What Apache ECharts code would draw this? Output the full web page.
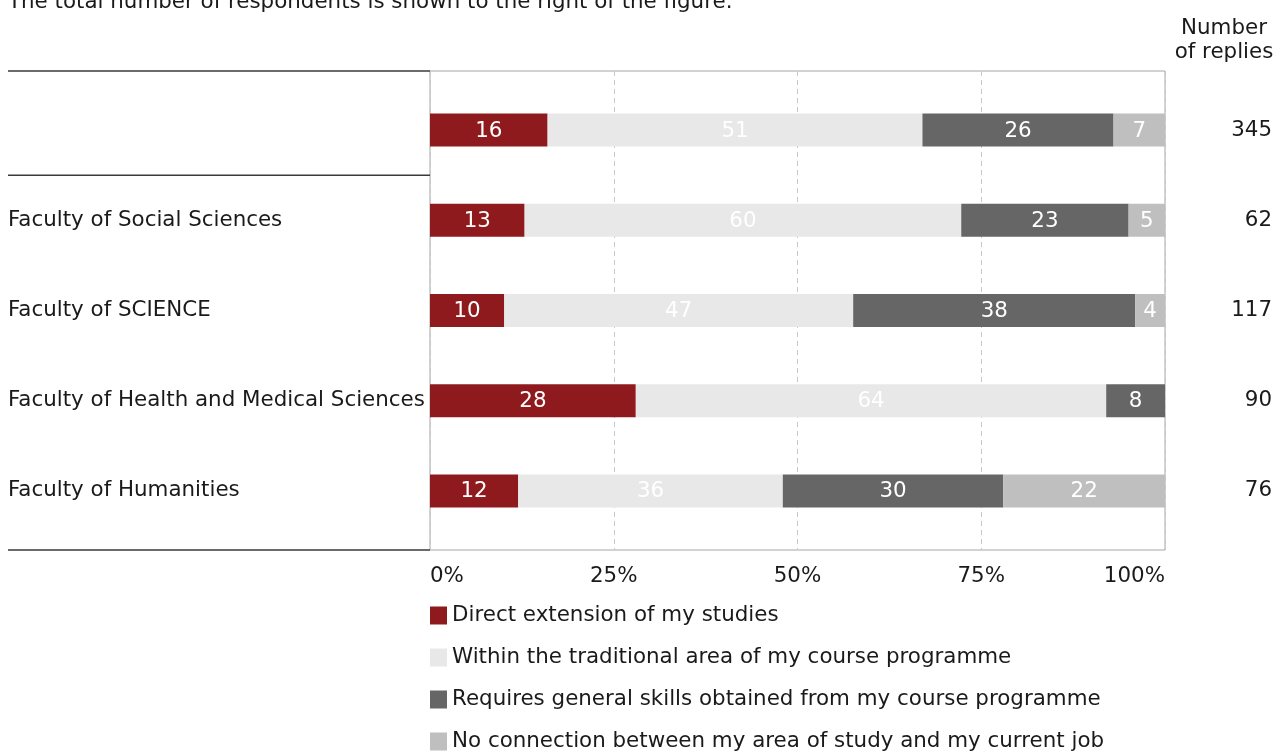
<!DOCTYPE html>
<html>
<head>
<meta charset="utf-8">
<script src="https://cdn.jsdelivr.net/npm/echarts@6/dist/echarts.min.js"></script>
<style>
html,body{margin:0;padding:0;background:#fff;}
#c{width:1276px;height:751px;}
</style>
</head>
<body>
<div id="c"></div>
<script>
const categories = ['', 'Faculty of Social Sciences', 'Faculty of SCIENCE', 'Faculty of Health and Medical Sciences', 'Faculty of Humanities'];
const replies = [345, 62, 117, 90, 76];
const seriesNames = [
  'Direct extension of my studies',
  'Within the traditional area of my course programme',
  'Requires general skills obtained from my course programme',
  'No connection between my area of study and my current job'
];
const directExt = [16, 13, 10, 28, 12];
const withinArea = [51, 60, 47, 64, 36];
const generalSkills = [26, 23, 38, 8, 30];
const noConnection = [7, 5, 4, 0, 22];
const xTicks = ['0%', '25%', '50%', '75%', '100%'];

const FONT = "'DejaVu Sans', Verdana, sans-serif";
const FS = 21.4;
const colors = ['#8f1a1e', '#e8e8e8', '#666666', '#bfbfbf'];
const allVals = [directExt, withinArea, generalSkills, noConnection];
const rowSums = categories.map((_, i) => allVals.reduce((s, a) => s + a[i], 0));

const L = 430, R = 1165, T0 = 71, B0 = 550, T1 = 85, B1 = 536, W = 1276, H = 751;

const chart = echarts.init(document.getElementById('c'), null, {renderer: 'canvas'});
const series = allVals.map((arr, k) => ({
  name: seriesNames[k],
  type: 'bar',
  stack: 'total',
  xAxisIndex: 1,
  yAxisIndex: 1,
  barWidth: 33,
  itemStyle: {color: colors[k]},
  label: {
    show: true,
    color: '#ffffff',
    fontFamily: FONT,
    fontSize: FS,
    offset: [0, 1],
    formatter: p => (p.data.raw ? String(p.data.raw) : '')
  },
  emphasis: {disabled: true},
  data: arr.map((v, i) => ({value: v / rowSums[i] * 100, raw: v}))
}));

chart.setOption({
  animation: false,
  textStyle: {fontFamily: FONT},
  grid: [
    {left: L, right: W - R, top: T0, bottom: H - B0, show: true, borderColor: '#a6a6a6', borderWidth: 1, backgroundColor: 'transparent'},
    {left: L, right: W - R, top: T1, bottom: H - B1}
  ],
  xAxis: [
    {
      type: 'value', gridIndex: 0, min: 0, max: 100, interval: 25,
      axisLine: {show: false}, axisTick: {show: false},
      splitLine: {show: true, lineStyle: {color: '#c8c8c8', type: [5, 4], width: 1}},
      axisLabel: {
        margin: 16, color: '#1a1a1a', fontSize: FS, fontFamily: FONT,
        alignMinLabel: 'left', alignMaxLabel: 'right',
        formatter: v => xTicks[Math.round(v / 25)]
      }
    },
    {type: 'value', gridIndex: 1, min: 0, max: 100, show: false}
  ],
  yAxis: [
    {type: 'category', gridIndex: 0, data: categories, show: false},
    {
      type: 'category', gridIndex: 1, data: categories, inverse: true,
      axisLine: {show: false}, axisTick: {show: false}, splitLine: {show: false},
      axisLabel: {align: 'left', margin: L - 8, color: '#1a1a1a', fontSize: FS, fontFamily: FONT}
    },
    {
      type: 'category', gridIndex: 1, position: 'right', data: replies.map(String), inverse: true,
      axisLine: {show: false}, axisTick: {show: false}, splitLine: {show: false},
      axisLabel: {align: 'right', margin: 1272 - R, color: '#1a1a1a', fontSize: FS, fontFamily: FONT}
    }
  ],
  legend: {
    orient: 'vertical', left: L, top: 605, height: 300, padding: 0, itemWidth: 17, itemHeight: 18, itemGap: 21,
    icon: 'rect', selectedMode: false,
    textStyle: {fontSize: FS, lineHeight: 18, color: '#1a1a1a', fontFamily: FONT},
    data: seriesNames
  },
  graphic: [
    {type: 'text', x: 8, y: 2, style: {text: 'The total number of respondents is shown to the right of the figure.', verticalAlign: 'middle', fontSize: FS, fontFamily: FONT, fill: '#1a1a1a'}},
    {type: 'text', x: 1224, y: 16, style: {text: 'Number\nof replies', align: 'center', lineHeight: 24, fontSize: FS, fontFamily: FONT, fill: '#1a1a1a'}},
    {type: 'line', shape: {x1: 8, y1: T0, x2: L, y2: T0}, style: {stroke: '#3a3a3a', lineWidth: 1.5}},
    {type: 'line', shape: {x1: 8, y1: (T1 + (B1 - T1) / 5), x2: L, y2: (T1 + (B1 - T1) / 5)}, style: {stroke: '#3a3a3a', lineWidth: 1.5}},
    {type: 'line', shape: {x1: 8, y1: B0, x2: L, y2: B0}, style: {stroke: '#3a3a3a', lineWidth: 1.5}}
  ],
  series: series
});
</script>
</body>
</html>
